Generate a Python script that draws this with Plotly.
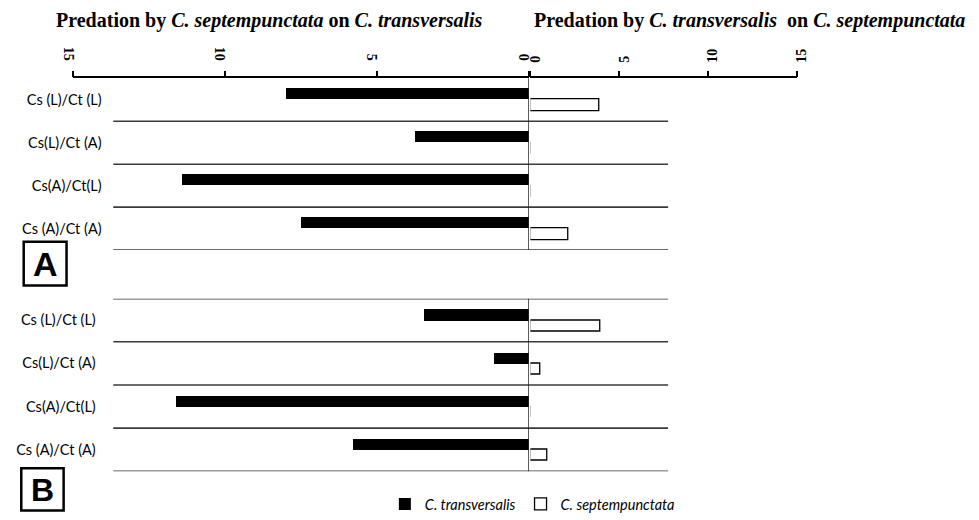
import plotly.graph_objects as go

# ---------------- data ----------------
categories = ["Cs (L)/Ct (L)", "Cs(L)/Ct (A)", "Cs(A)/Ct(L)", "Cs (A)/Ct (A)"]
# Panel A
a_transversalis = [8.0, 3.75, 11.4, 7.5]      # predation by C. septempunctata on C. transversalis (left)
a_septempunctata = [3.9, 0.0, 0.0, 2.15]      # predation by C. transversalis on C. septempunctata (right)
# Panel B
b_transversalis = [3.45, 1.15, 11.6, 5.8]
b_septempunctata = [3.95, 0.55, 0.0, 0.95]
tick_vals = [0, 5, 10, 15]
panel_labels = ["A", "B"]

W, H = 979, 520


def px(x):
    return x / W


def py(y):
    return 1 - y / H


LEFT_DOM = [px(61.7), px(530)]
RIGHT_DOM = [px(531.5), px(805)]
A_DOM = [py(254), py(79.5)]
B_DOM = [py(478.7), py(303.3)]

BAR_W = 0.26
fig = go.Figure()

name_ct = "<i>C. transversalis</i>"
name_cs = "<i>C. septempunctata</i>"

# Panel A
fig.add_trace(go.Bar(y=categories, x=a_transversalis, orientation="h", xaxis="x", yaxis="y",
                     marker=dict(color="black", line=dict(color="black", width=0)),
                     width=BAR_W, offset=-BAR_W, name=name_ct, legendgroup="ct"))
fig.add_trace(go.Bar(y=categories, x=a_septempunctata, orientation="h", xaxis="x2", yaxis="y",
                     marker=dict(color="white", line=dict(color="black", width=1.3)),
                     width=BAR_W, offset=0, name=name_cs, legendgroup="cs"))
# Panel B
fig.add_trace(go.Bar(y=categories, x=b_transversalis, orientation="h", xaxis="x3", yaxis="y2",
                     marker=dict(color="black", line=dict(color="black", width=0)),
                     width=BAR_W, offset=-BAR_W, name=name_ct, legendgroup="ct", showlegend=False))
fig.add_trace(go.Bar(y=categories, x=b_septempunctata, orientation="h", xaxis="x4", yaxis="y2",
                     marker=dict(color="white", line=dict(color="black", width=1.3)),
                     width=BAR_W, offset=0, name=name_cs, legendgroup="cs", showlegend=False))

tickfont = dict(family="Liberation Serif", size=14, color="black", weight="bold")
axis_common = dict(showgrid=False, zeroline=False, fixedrange=True)

cat_font = dict(family="Lato", size=14.5, color="black")
n = len(categories)

fig.update_layout(
    width=W, height=H, autosize=False,
    margin=dict(l=0, r=0, t=0, b=0),
    paper_bgcolor="white", plot_bgcolor="white",
    bargap=0,
    xaxis=dict(domain=LEFT_DOM, range=[15, 0], side="top", anchor="y",
               tickvals=tick_vals, ticks="outside", ticklen=6, tickwidth=1.5, tickcolor="black",
               showline=True, linecolor="black", linewidth=1.5, tickangle=90,
               tickfont=tickfont, ticklabelstandoff=5, ticklabelshift=5, **axis_common),
    xaxis2=dict(domain=RIGHT_DOM, range=[0, 15], side="top", anchor="y",
                tickvals=tick_vals, ticks="outside", ticklen=6, tickwidth=1.5, tickcolor="black",
                showline=True, linecolor="black", linewidth=1.5, tickangle=-90,
                tickfont=tickfont, ticklabelstandoff=5, ticklabelshift=5, **axis_common),
    xaxis3=dict(domain=LEFT_DOM, range=[15, 0], anchor="y2", visible=False, **axis_common),
    xaxis4=dict(domain=RIGHT_DOM, range=[0, 15], anchor="y2", visible=False, **axis_common),
    yaxis=dict(domain=A_DOM, anchor="free", position=px(91), range=[n - 0.5, -0.5],
               type="category", categoryarray=categories, ticks="", showline=False,
               tickfont=cat_font, **axis_common),
    yaxis2=dict(domain=B_DOM, anchor="free", position=px(85), range=[n - 0.5, -0.5],
                type="category", categoryarray=categories, ticks="", showline=False,
                tickfont=cat_font, **axis_common),
    legend=dict(orientation="h", x=px(382), y=py(512), xanchor="left", yanchor="middle",
                font=dict(family="Lato", size=14.5, color="black"), bgcolor="rgba(0,0,0,0)",
                itemwidth=30, traceorder="normal"),
    showlegend=True,
)

shapes = []
line_style = dict(color="#3a3a3a", width=1.6)
# category separators, panel A (bottom boundaries) and panel B (all boundaries)
for i in range(n):
    shapes.append(dict(type="line", xref="paper", yref="y", x0=px(103), x1=px(673),
                       y0=i + 0.5, y1=i + 0.5, line=line_style, layer="below"))
for i in range(n + 1):
    shapes.append(dict(type="line", xref="paper", yref="y2", x0=px(103), x1=px(673),
                       y0=i - 0.5, y1=i - 0.5, line=line_style, layer="below"))
# zero lines
shapes.append(dict(type="line", xref="x", yref="y domain", x0=0, x1=0, y0=0, y1=1,
                   line=dict(color="#222", width=1.3)))
shapes.append(dict(type="line", xref="x3", yref="y2 domain", x0=0, x1=0, y0=0, y1=1,
                   line=dict(color="#222", width=1.3)))
# panel label boxes
shapes.append(dict(type="rect", xref="paper", yref="paper", x0=px(11), x1=px(55),
                   y0=py(290), y1=py(245.5), line=dict(color="black", width=2.5)))
shapes.append(dict(type="rect", xref="paper", yref="paper", x0=px(8.5), x1=px(52),
                   y0=py(518.5), y1=py(475.5), line=dict(color="black", width=2.5)))
fig.update_layout(shapes=shapes)

title_font = dict(family="Liberation Serif", size=20, color="black")
annotations = [
    dict(text="<b>Predation by <i>C. septempunctata</i> on <i>C. transversalis</i></b>",
         xref="paper", yref="paper", x=px(263.5), y=py(21), xanchor="center", yanchor="middle",
         showarrow=False, font=title_font),
    dict(text="<b>Predation by <i>C. transversalis</i>  on <i>C. septempunctata</i></b>",
         xref="paper", yref="paper", x=px(756.5), y=py(21), xanchor="center", yanchor="middle",
         showarrow=False, font=title_font),
    dict(text="<b>%s</b>" % panel_labels[0], xref="paper", yref="paper", x=px(33), y=py(268),
         xanchor="center", yanchor="middle", showarrow=False,
         font=dict(family="Liberation Sans", size=34, color="black")),
    dict(text="<b>%s</b>" % panel_labels[1], xref="paper", yref="paper", x=px(30.3), y=py(497.5),
         xanchor="center", yanchor="middle", showarrow=False,
         font=dict(family="Liberation Sans", size=32, color="black")),
]
fig.update_layout(annotations=annotations)

fig.write_html("out.html", config={"displayModeBar": False},
               post_script="document.body.style.margin='0';")
